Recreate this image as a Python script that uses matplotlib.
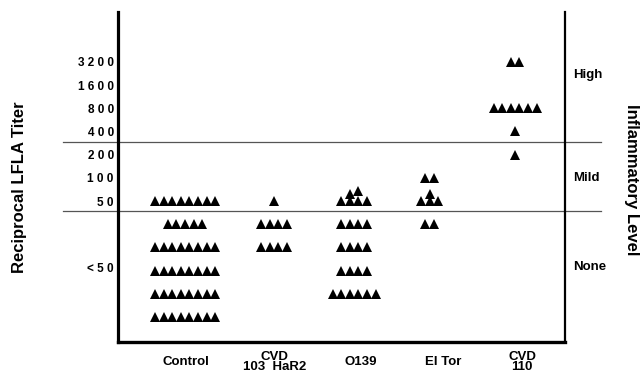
import matplotlib
matplotlib.use("Agg")
import matplotlib.pyplot as plt
import matplotlib.transforms as mtransforms

plt.rcParams['font.family'] = ['Liberation Sans', 'DejaVu Sans']
plt.rcParams['font.weight'] = 'bold'

# ---------------- data ----------------
groups = ["Control", "CVD\n103  HaR2", "O139", "El Tor", "CVD\n110"]

# titer levels (rank on the ordinal axis)
titer_levels = ["50", "100", "200", "400", "800", "1600", "3200"]
titer_tick_labels = ["5 0", "1 0 0", "2 0 0", "4 0 0", "8 0 0", "1 6 0 0", "3 2 0 0"]
below_label = "< 5 0"

# rows of triangles per group: (titer, count in that row)
control_rows = [("50", 8), ("<50", 5), ("<50", 8), ("<50", 8), ("<50", 8), ("<50", 8)]
cvd103_rows = [("50", 1), ("<50", 4), ("<50", 4)]
o139_rows = [("50", 4), ("<50", 4), ("<50", 4), ("<50", 4), ("<50", 6)]
eltor_rows = [("100", 2), ("50", 3), ("<50", 2)]
cvd110_rows = [("3200", 2), ("800", 6), ("400", 1), ("200", 1)]

# overlapping (stacked) triangles drawn on top of a base row: (titer, count)
control_overlap = []
cvd103_overlap = []
o139_overlap = [("50", 2)]
eltor_overlap = [("50", 1)]
cvd110_overlap = []

region_labels = ["High", "Mild", "None"]

all_rows = [control_rows, cvd103_rows, o139_rows, eltor_rows, cvd110_rows]
all_overlap = [control_overlap, cvd103_overlap, o139_overlap, eltor_overlap, cvd110_overlap]

# ---------------- layout ----------------
W, H = 643, 375
fig = plt.figure(figsize=(W / 100, H / 100), dpi=100)
ax_l, ax_r, ax_t, ax_b = 118, 565, 12, 342
ax = fig.add_axes([ax_l / W, 1 - ax_b / H, (ax_r - ax_l) / W, (ax_b - ax_t) / H])

px_x = 89.0     # pixels per group unit
px_y = 23.2     # pixels per titer rank
x0_px, y0_px = 185, 201
ax.set_xlim((ax_l - x0_px) / px_x, (ax_r - x0_px) / px_x)
ax.set_ylim(-(ax_b - y0_px) / px_y, (y0_px - ax_t) / px_y)

group_pos = [0.0, 1.0, 1.9, 2.75, 3.71]
label_pos = [0.01, 1.01, 1.98, 2.9, 3.79]
pitch = 8.6 / px_x

xs, ys = [], []
for gx, rows, overlap in zip(group_pos, all_rows, all_overlap):
    below = 0
    base_counts = {}
    for titer, n in rows:
        if titer == "<50":
            below += 1
            y = -below
        else:
            y = titer_levels.index(titer)
            base_counts[titer] = n
        for i in range(n):
            xs.append(gx + (i - (n - 1) / 2) * pitch)
            ys.append(y)
    for titer, n in overlap:
        nb = base_counts[titer]
        y = titer_levels.index(titer)
        for k in range(n):
            i = 1 + k
            xs.append(gx + (i - (nb - 1) / 2) * pitch)
            ys.append(y + 0.3 + 0.12 * k)

ax.plot(xs, ys, linestyle='none', marker='^', markersize=6.6,
        color='black', markeredgewidth=0, clip_on=False)

# threshold lines (between 200/400 and between 50/<50)
for yb in [2.55, -0.45]:
    ax.plot([-0.123, 1.08], [yb, yb], color='#555555', lw=0.9,
            transform=mtransforms.blended_transform_factory(ax.transAxes, ax.transData),
            clip_on=False)

# spines
ax.spines['top'].set_visible(False)
ax.spines['left'].set_linewidth(2.3)
ax.spines['bottom'].set_linewidth(2.4)
ax.spines['right'].set_linewidth(1.6)

# y ticks
yt = list(range(len(titer_levels))) + [-2.85]
ax.set_yticks(yt)
ax.set_yticklabels(titer_tick_labels + [below_label], fontsize=8.5, fontweight='bold')
ax.tick_params(axis='y', length=0, pad=3)
ax.set_xticks([])

# group labels
trans_x = mtransforms.blended_transform_factory(ax.transData, ax.transAxes)
for lp, g in zip(label_pos, groups):
    ax.text(lp, (ax_b - 362) / (ax_b - ax_t), g, transform=trans_x, ha='center',
            va='center', fontsize=9.5, fontweight='bold', linespacing=0.88)

# region labels on the right
trans_r = mtransforms.blended_transform_factory(ax.transAxes, ax.transData)
for lab, yv in zip(region_labels, [5.43, 0.99, -2.84]):
    ax.text(1.018, yv, lab, transform=trans_r, ha='left', va='center',
            fontsize=9.5, fontweight='bold')

fig.text(20 / W, 1 - 187 / H, "Reciprocal LFLA Titer", rotation=90,
         ha='center', va='center', fontsize=12, fontweight='bold')
fig.text(632 / W, 1 - 180 / H, "Inflammatory Level", rotation=270,
         ha='center', va='center', fontsize=12, fontweight='bold')

fig.savefig("out.png", dpi=100)
